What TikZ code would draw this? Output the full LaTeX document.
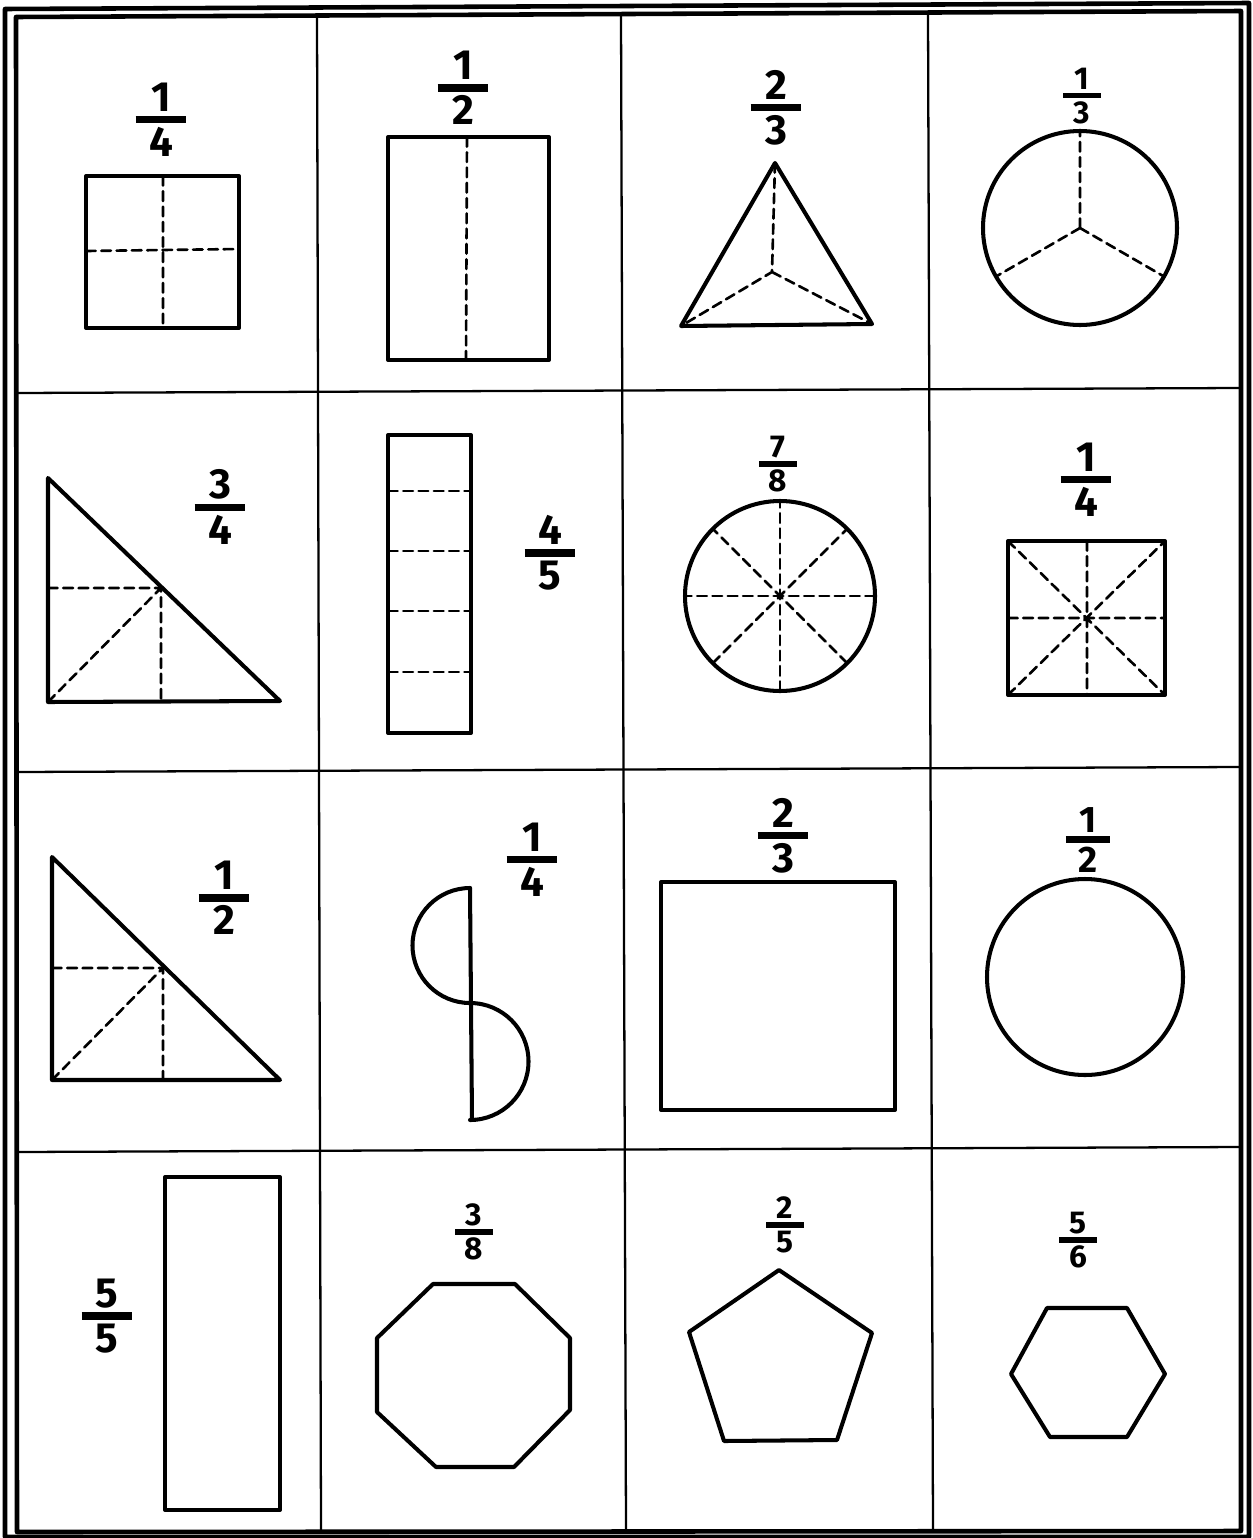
\documentclass[tikz,border=0pt]{standalone}
\usepackage{fontspec}
\setmainfont{Fira Sans}
% stacked fraction: numerator, bar, denominator
\newcommand{\fr}[2]{\vbox{\hbox to 1.2em{\hss#1\hss}\kern0.1em
  \hrule height 0.18em\kern0.1em\hbox to 1.2em{\hss#2\hss}}}
\tikzset{
  shp/.style={line width=2.3pt, line join=round},
  fold/.style={line width=1.5pt, dash pattern=on 5.5pt off 3.2pt},
  gridln/.style={line width=1.3pt},
  framebox/.style={line width=2.6pt, line join=round},
  frc/.style={inner sep=0pt, font=\fontsize{24}{24}\selectfont\bfseries},
  frcm/.style={inner sep=0pt, font=\fontsize{21}{21}\selectfont\bfseries},
  frcs/.style={inner sep=0pt, font=\fontsize{18}{18}\selectfont\bfseries},
}

\begin{document}
\begin{tikzpicture}[x=0.02cm, y=-0.02cm, line cap=round]
  \useasboundingbox (0,0) rectangle (1252,1538);

  % Frame and grid
  \draw[framebox] (5,9) -- (1249,3) -- (1249,1537) -- (5,1537) -- cycle;
  \draw[framebox] (16,17) -- (1241,11) -- (1241,1531) -- (17,1532) -- cycle;
  \draw[gridln] (317,15) -- (321,1531);
  \draw[gridln] (621,14) -- (626,1531);
  \draw[gridln] (928,12) -- (933,1531);
  \draw[gridln] (16,393) -- (1241,388);
  \draw[gridln] (16,772) -- (1241,767);
  \draw[gridln] (17,1152) -- (1241,1147);

  % Row 1
  \node[frc] (f1) at (161,120) {\fr{1}{4}};
  \draw[shp] (86,176) rectangle (239,328);
  \draw[fold] (163,176) -- (163,328) (86,251) -- (239,249);

  \node[frc] (f2) at (463,88) {\fr{1}{2}};
  \draw[shp] (388,137) rectangle (549,360);
  \draw[fold] (467,137) -- (466,360);

  \node[frc] (f3) at (776,108) {\fr{2}{3}};
  \coordinate (t3) at (772,272);
  \draw[shp] (775,163) -- (872,324) -- (681,326) -- cycle;
  \draw[fold] (775,163) -- (t3) -- (681,326) (t3) -- (872,324);

  \node[frcs] (f4) at (1082,96) {\fr{1}{3}};
  \coordinate (c4) at (1080,228);
  \draw[shp] (c4) circle (97);
  \draw[fold] (c4) -- +(270:97) (c4) -- +(150:97) (c4) -- +(30:97);

  % Row 2
  \node[frc] (f5) at (220,507) {\fr{3}{4}};
  \draw[shp] (48,478) -- (48,702) -- (280,701) -- cycle;
  \draw[fold] (48,588) -- (161,588) -- (161,702) (48,702) -- (161,588);

  \node[frc] (f6) at (550,553) {\fr{4}{5}};
  \draw[shp] (388,435) rectangle (471,733);
  \foreach \yy in {491,551,611,672}
    \draw[fold] (388,\yy) -- (471,\yy);

  \node[frcs] (f7) at (778,464) {\fr{7}{8}};
  \coordinate (c7) at (780,596);
  \draw[shp] (c7) circle (95);
  \foreach \a in {0,45,90,135}
    \draw[fold] (c7) +(\a:95) -- +(\a+180:95);

  \node[frc] (f8) at (1086,480) {\fr{1}{4}};
  \draw[shp] (1008,541) rectangle (1165,695);
  \draw[fold] (1087,541) -- (1087,695) (1008,618) -- (1165,618)
    (1008,541) -- (1165,695) (1008,695) -- (1165,541);

  % Row 3
  \node[frc] (f9) at (224,898) {\fr{1}{2}};
  \draw[shp] (52,857) -- (52,1080) -- (280,1080) -- cycle;
  \draw[fold] (52,968) -- (163,968) -- (163,1080) (52,1080) -- (163,968);

  \node[frc] (f10) at (532,860) {\fr{1}{4}};
  \draw[shp] (470,888) -- (472,1120);
  \draw[shp] (470,888) arc[start angle=270, end angle=90, radius=57.5];
  \draw[shp] (470,1003) arc[start angle=270, end angle=450, radius=58.5];

  \node[frc] (f11) at (783,836) {\fr{2}{3}};
  \draw[shp] (661,882) rectangle (895,1110);

  \node[frcm] (f12) at (1088,840) {\fr{1}{2}};
  \draw[shp] (1085,977) circle (98);

  % Row 4
  \node[frc] (f13) at (107,1316) {\fr{5}{5}};
  \draw[shp] (165,1177) rectangle (280,1510);

  \node[frcs] (f14) at (474,1232) {\fr{3}{8}};
  \draw[shp] (433,1284) -- (515,1284) -- (570,1338) -- (570,1410) -- (514,1467)
    -- (436,1467) -- (377,1412) -- (377,1338) -- cycle;

  \node[frcs] (f15) at (785,1225) {\fr{2}{5}};
  \draw[shp] (779,1270) -- (872,1333) -- (837,1440) -- (724,1441) -- (689,1332) -- cycle;

  \node[frcs] (f16) at (1078,1240) {\fr{5}{6}};
  \draw[shp] (1047,1308) -- (1127,1308) -- (1165,1374) -- (1127,1437)
    -- (1050,1437) -- (1011,1374) -- cycle;
\end{tikzpicture}
\end{document}
